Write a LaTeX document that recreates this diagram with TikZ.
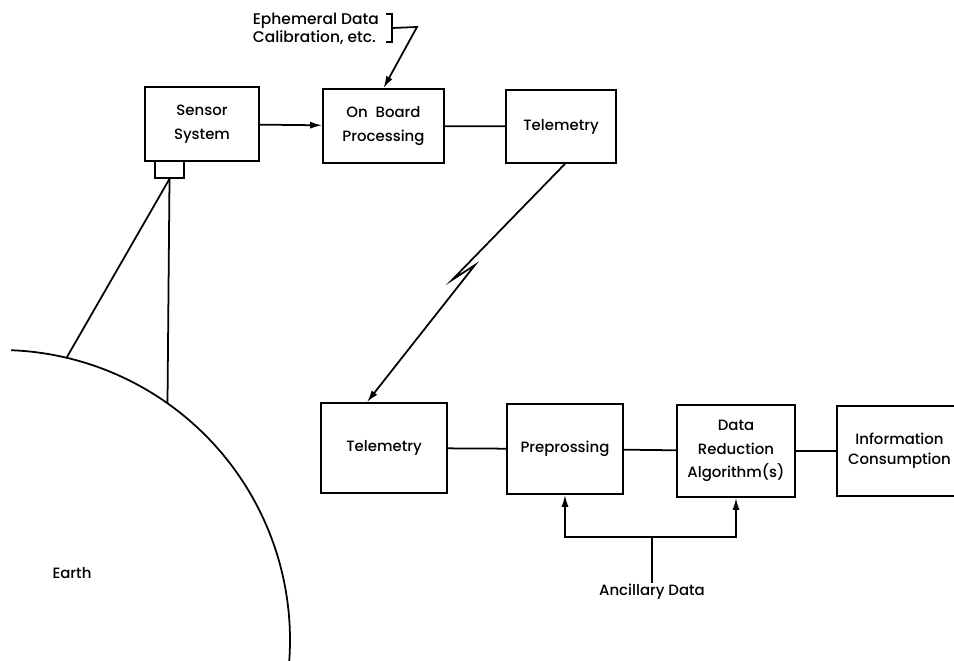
\documentclass[tikz,border=0pt]{standalone}
\usepackage{fontspec}
\setmainfont{Poppins}[UprightFont={* Medium}]
\usepackage{tikz}
\usetikzlibrary{arrows.meta,positioning}

\begin{document}
\begin{tikzpicture}[x=0.02cm,y=0.02cm,line width=1pt,
 n/.style={draw,align=center,inner sep=0pt,font=\fontsize{8.5}{13.5}\selectfont},
 t/.style={align=center,inner sep=0pt,font=\fontsize{8.5}{10.5}\selectfont},
 a/.style={-{Latex[length=2.4mm,width=1.4mm]}}
]
\useasboundingbox (0,0) rectangle (954,-661);
\node[n,minimum width=2.28cm,minimum height=1.48cm] (sensor) at (202,-124) {Sensor\\System};
\node[draw,minimum width=.58cm,minimum height=.34cm,inner sep=0pt] (lens) at (169.5,-169.5) {};
\node[n,minimum width=2.42cm,minimum height=1.48cm] (obp) at (383.5,-126) {On\ \ Board\\Processing};
\node[n,minimum width=2.2cm,minimum height=1.46cm] (tel1) at (561,-126.5) {Telemetry};
\node[n,minimum width=2.52cm,minimum height=1.8cm] (tel2) at (384,-448) {Telemetry};
\node[n,minimum width=2.32cm,minimum height=1.8cm] (prep) at (565,-449) {Preprossing};
\node[n,minimum width=2.36cm,minimum height=1.84cm] (dra) at (736,-451) {Data\\Reduction\\Algorithm(s)};
\node[n,minimum width=2.5cm,minimum height=1.8cm,font=\fontsize{8.5}{11.5}\selectfont] (info) at (899.5,-451) {Information\\Consumption};
\node[t,align=left,anchor=west,font=\fontsize{8.8}{10.5}\selectfont] (eph) at (252,-29) {Ephemeral Data\\Calibration, etc.};
\node[t] (anc) at (652,-592) {Ancillary Data};
\node[t] (earth) at (72,-573) {Earth};
\coordinate (brk) at (417,-27);
\coordinate (z1) at (452,-280);
\coordinate (z2) at (475,-265);
\coordinate (j) at (652,-537);
\draw (0,-640) ++(87.8:290) arc[start angle=87.8,end angle=-6,radius=290];
\draw (lens.south) -- (67,-357); \draw (lens.south) -- (167.5,-403);
\draw (386,-14) -- (392,-14) -- (392,-42) -- (386,-42);
\draw[a] (392,-28) -- (brk) -- (obp.north);
\draw[a] (sensor) -- (obp); \draw (obp) -- (tel1);
\draw[a] ([xshift=.08cm]tel1.south) -- (z1) -- (z2) -- ([xshift=-.34cm]tel2.north);
\draw (tel2) -- (prep); \draw (prep) -- (dra); \draw (dra) -- (info);
\draw (anc.north) -- (j); \draw[a] (j) -| (prep.south); \draw[a] (j) -| (dra.south);
\end{tikzpicture}
\end{document}
